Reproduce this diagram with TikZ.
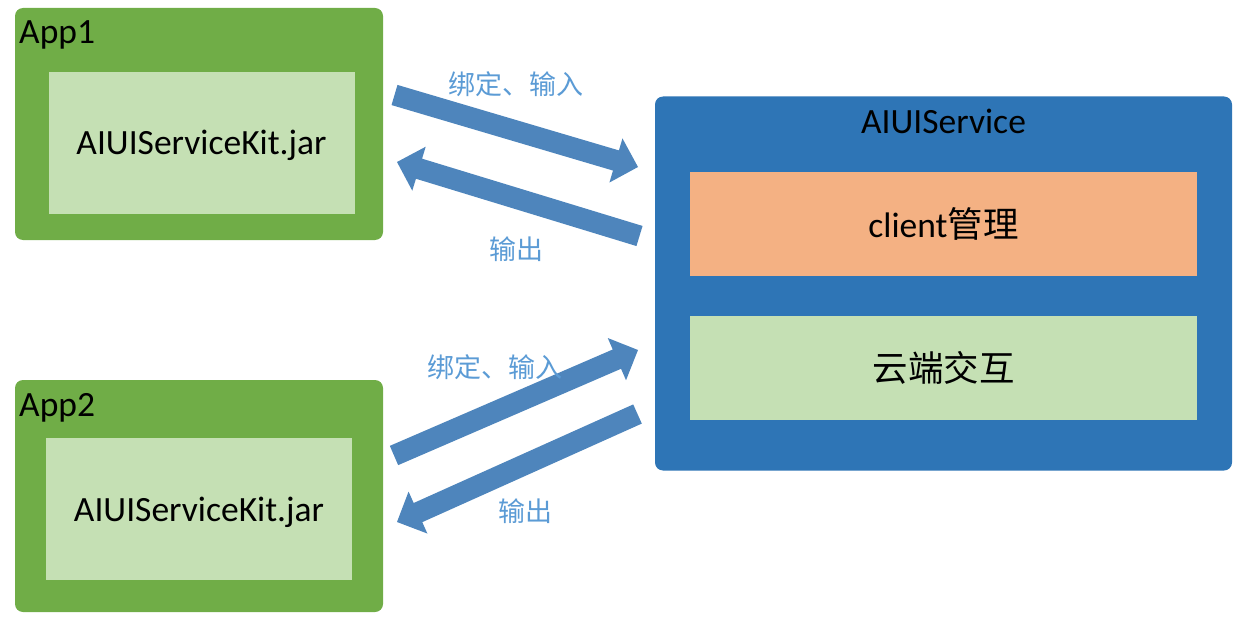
\documentclass[tikz,border=0pt]{standalone}
\usepackage{fontspec}
\setmainfont{Carlito}
\newfontfamily\cjk{Noto Sans CJK SC}
\usetikzlibrary{calc}
\definecolor{appgreen}{RGB}{112,173,71}
\definecolor{lightgreen}{RGB}{197,224,180}
\definecolor{svcblue}{RGB}{46,117,182}
\definecolor{orangefill}{RGB}{244,177,131}
\definecolor{arrowblue}{RGB}{78,133,188}
\definecolor{labelblue}{RGB}{91,155,213}
\newcommand\fatarrow[2]{%
  \coordinate (#1nb) at ($(#2)!23pt!(#1)$);
  \fill[arrowblue] ($(#1)!10.5pt!90:(#2)$) -- ($(#1nb)!10.5pt!90:(#2)$) -- ($(#1nb)!23pt!90:(#2)$) -- (#2)
    -- ($(#1nb)!23pt!-90:(#2)$) -- ($(#1nb)!10.5pt!-90:(#2)$) -- ($(#1)!10.5pt!-90:(#2)$) -- cycle;}
\begin{document}
\begin{tikzpicture}[x=1pt,y=-1pt,
  outerbox/.style={fill=appgreen, rounded corners=8pt, inner sep=0pt, outer sep=0pt, minimum width=368pt, minimum height=232pt},
  innerbox/.style={fill=lightgreen, inner sep=0pt, outer sep=0pt, minimum width=306pt, minimum height=142pt},
  svcbox/.style={fill=svcblue, rounded corners=8pt, inner sep=0pt, outer sep=0pt, minimum width=577pt, minimum height=374pt},
  partbox/.style={inner sep=0pt, outer sep=0pt, minimum width=507pt, minimum height=104pt, font=\fontsize{35.5}{38}\selectfont},
  title/.style={font=\fontsize{35.5}{38}\selectfont, inner sep=0pt},
  lbl/.style={text=labelblue, font=\fontsize{27}{30}\selectfont\cjk, inner sep=0pt}]
\useasboundingbox (0,0) rectangle (1240,623);
% App1
\node[outerbox] (app1) at (199,124) {};
\node[innerbox] (kit1) at (201.5,143) {};
\node[title, anchor=base] (kit1t) at (201.5,155) {AIUIServiceKit.jar};
\node[title, anchor=base west] (app1t) at (19,44) {App1};
% App2
\node[outerbox] (app2) at (199,496) {};
\node[innerbox] (kit2) at (199,509) {};
\node[title, anchor=base] (kit2t) at (199,521) {AIUIServiceKit.jar};
\node[title, anchor=base west] (app2t) at (19,416) {App2};
% Service
\node[svcbox] (svc) at (943.5,283.5) {};
\node[title] (svct) at (943.5,121) {AIUIService};
\node[partbox, fill=orangefill] (client) at (943.5,224) {client{\cjk 管理}};
\node[partbox, fill=lightgreen] (cloud) at (943.5,368) {{\cjk 云端交互}};
% arrows
\coordinate (a1s) at (394.5,95);  \coordinate (a1e) at (638,167);
\coordinate (a2s) at (639.5,236); \coordinate (a2e) at (397,162);
\coordinate (a3s) at (394,455.5); \coordinate (a3e) at (638,350);
\coordinate (a4s) at (637.5,414); \coordinate (a4e) at (397,522);
\fatarrow{a1s}{a1e}
\fatarrow{a2s}{a2e}
\fatarrow{a3s}{a3e}
\fatarrow{a4s}{a4e}
% labels
\node[lbl] (l1) at (516,84) {绑定、输入};
\node[lbl] (l2) at (516,249) {输出};
\node[lbl] (l3) at (495,367) {绑定、输入};
\node[lbl] (l4) at (525,511) {输出};
\end{tikzpicture}
\end{document}
